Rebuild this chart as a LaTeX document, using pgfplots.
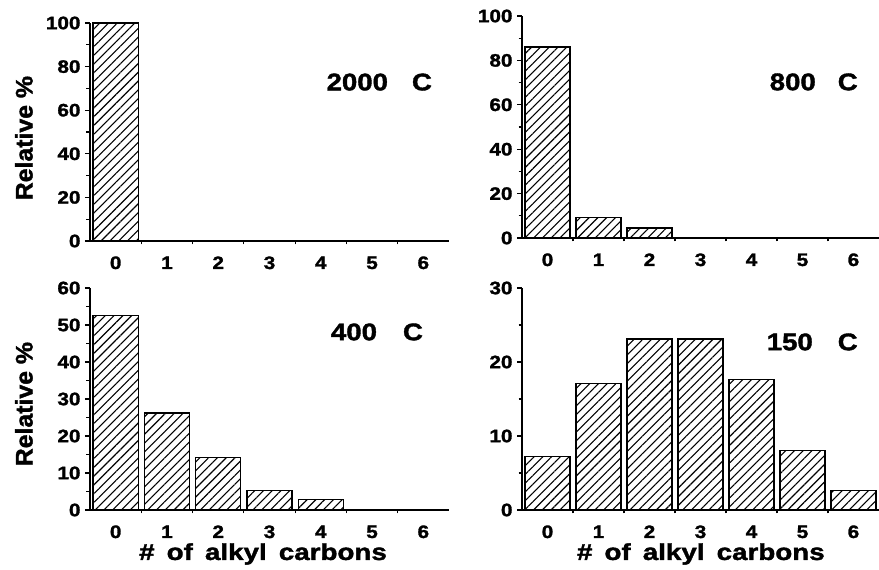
\documentclass[border=0pt]{standalone}
\usepackage{fontspec}
\setmainfont{Liberation Sans}[FakeStretch=1.15, BoldFeatures={FakeBold=1.6}]
\usepackage{graphicx}
\usepackage{pgfplots}
\pgfplotsset{compat=1.18}
\usetikzlibrary{patterns.meta}

\newcommand\fs[1]{\fontsize{#1}{#1}\selectfont\bfseries}

\pgfplotsset{
  panel/.style={
    scale only axis, axis lines=left, axis line style={-, line width=1.6pt},
    xmin=-0.5, xmax=6.5, ymin=0, clip=false,
    xtick={0,...,6}, major x tick style={draw=none},
    minor xtick={0.5,1.5,...,5.5},
    minor y tick num=1,
    tick align=outside, major tick length=5pt, minor tick length=3.5pt,
    every tick/.style={black, line width=1.2pt},
    /pgf/number format/assume math mode=true,
    tick label style={font=\fs{18}},
    xticklabel style={anchor=base, yshift=-23pt},
    yticklabel style={xshift=-1pt},
  },
  hbar/.style={ybar, bar width=0.88, draw=black, line width=1.4pt,
    pattern={Lines[angle=45, distance=6.2pt, line width=1.1pt]}},
  ylab/.style={ylabel={\scalebox{0.9}[1]{Relative \%}},
    ylabel style={font=\fs{24}, at={(axis description cs:-0.184,#1)}, anchor=center}},
  xlab/.style={xlabel={\scalebox{1.05}[1]{\#\hspace{0.5em}of\hspace{0.5em}alkyl\hspace{0.5em}carbons}},
    xlabel style={font=\fs{23}, at={(axis description cs:#1,-0.225)}, anchor=base}},
}

\begin{document}
\begin{tikzpicture}
\path[use as bounding box] (0,0) rectangle (879pt,570pt);

% 2000 C
\begin{axis}[panel, ylab=0.472, at={(90pt,329pt)}, anchor=south west,
  width=359pt, height=218pt, ymax=100, ytick={0,20,...,100}]
\addplot[hbar] coordinates {(0,100) (1,0) (2,0) (3,0) (4,0) (5,0) (6,0)};
\node[anchor=east, inner sep=0, font=\fs{24}] at (rel axis cs:0.953,0.729) {2000\hspace{24pt}C};
\end{axis}

% 800 C
\begin{axis}[panel, at={(522pt,332pt)}, anchor=south west,
  width=357pt, height=222pt, ymax=100, ytick={0,20,...,100}]
\addplot[hbar] coordinates {(0,86) (1,9.2) (2,4.5) (3,0) (4,0) (5,0) (6,0)};
\node[anchor=east, inner sep=0, font=\fs{24}] at (rel axis cs:0.941,0.703) {800\hspace{22pt}C};
\end{axis}

% 400 C
\begin{axis}[panel, ylab=0.477, xlab=0.482, at={(90pt,60pt)}, anchor=south west,
  width=359pt, height=222pt, ymax=60, ytick={0,10,...,60}]
\addplot[hbar] coordinates {(0,52.6) (1,26.2) (2,14.2) (3,5.2) (4,2.8) (5,0) (6,0)};
\node[anchor=east, inner sep=0, font=\fs{24}] at (rel axis cs:0.928,0.802) {400\hspace{26pt}C};
\end{axis}

% 150 C
\begin{axis}[panel, xlab=0.501, at={(522pt,60pt)}, anchor=south west,
  width=357pt, height=222pt, ymax=30, ytick={0,10,20,30}]
\addplot[hbar] coordinates {(0,7.2) (1,17.1) (2,23.1) (3,23.1) (4,17.6) (5,8.0) (6,2.6)};
\node[anchor=east, inner sep=0, font=\fs{24}] at (rel axis cs:0.941,0.757) {150\hspace{25pt}C};
\end{axis}
\end{tikzpicture}
\end{document}
